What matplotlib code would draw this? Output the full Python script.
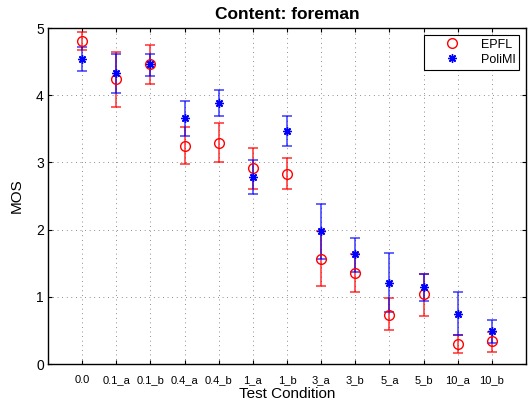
import matplotlib
matplotlib.use("Agg")
import matplotlib.pyplot as plt
import numpy as np

conditions = ["0.0", "0.1_a", "0.1_b", "0.4_a", "0.4_b", "1_a", "1_b",
              "3_a", "3_b", "5_a", "5_b", "10_a", "10_b"]
epfl_mos = [4.81, 4.24, 4.46, 3.24, 3.29, 2.92, 2.83, 1.56, 1.36, 0.73, 1.04, 0.30, 0.34]
epfl_lo = [4.67, 3.82, 4.17, 2.97, 3.00, 2.60, 2.60, 1.16, 1.07, 0.50, 0.72, 0.17, 0.18]
epfl_hi = [4.94, 4.65, 4.75, 3.53, 3.59, 3.22, 3.07, 1.98, 1.64, 0.98, 1.34, 0.43, 0.48]
polimi_mos = [4.54, 4.33, 4.46, 3.66, 3.89, 2.79, 3.47, 1.98, 1.64, 1.20, 1.15, 0.75, 0.49]
polimi_lo = [4.36, 4.03, 4.29, 3.39, 3.69, 2.53, 3.24, 1.56, 1.37, 0.77, 0.94, 0.43, 0.31]
polimi_hi = [4.72, 4.62, 4.62, 3.92, 4.08, 3.04, 3.69, 2.38, 1.88, 1.65, 1.34, 1.07, 0.65]

plt.rcParams['font.family'] = ['Liberation Sans', 'DejaVu Sans']

fig = plt.figure(figsize=(5.31, 4.05), dpi=100)
ax = fig.add_axes([48/531, 41/405, 478/531, 336/405])

x = np.arange(1, len(conditions) + 1)

def err(m, lo, hi):
    m = np.array(m); lo = np.array(lo); hi = np.array(hi)
    return np.vstack([m - lo, hi - m])

ax.errorbar(x, epfl_mos, yerr=err(epfl_mos, epfl_lo, epfl_hi), fmt='none',
            ecolor=(1, 0, 0, 0.75), elinewidth=1.2, capsize=3.3, capthick=1.2, zorder=3)
ax.errorbar(x, polimi_mos, yerr=err(polimi_mos, polimi_lo, polimi_hi), fmt='none',
            ecolor=(0, 0, 1, 0.7), elinewidth=1.2, capsize=3.3, capthick=1.2, zorder=3)
ax.plot(x, epfl_mos, linestyle='none', marker='o', markersize=7, markerfacecolor='none',
        markeredgecolor='red', markeredgewidth=1.0, label='EPFL', zorder=4)
ax.plot(x, polimi_mos, linestyle='none', marker=(8, 2, 0), markersize=6,
        markeredgecolor='blue', color='blue', markeredgewidth=1.0, label='PoliMI', zorder=4)

ax.set_xlim(0, 14)
ax.set_ylim(0, 5)
ax.set_xticks(x)
ax.set_xticklabels(conditions, fontsize=8)
ax.set_yticks(range(0, 6))
ax.tick_params(axis='y', labelsize=10)
ax.tick_params(direction='in', length=3, width=0.8, top=True, right=True)
ax.tick_params(axis='x', pad=8)
ax.tick_params(axis='y', pad=3)
ax.grid(True, linestyle=(0, (1, 5)), color='0.3', linewidth=0.55)
for s in ax.spines.values():
    s.set_linewidth(1.0)

ax.set_title('Content: foreman', fontsize=12.5, fontweight='bold', pad=6.5)
ax.set_xlabel('Test Condition', fontsize=11, labelpad=1.5)
ax.set_ylabel('MOS', fontsize=11, labelpad=9)

leg = ax.legend(loc='upper right', fontsize=9, frameon=True, fancybox=False,
                edgecolor='black', framealpha=1, borderpad=0.3, handletextpad=0.4,
                handlelength=3.8, labelspacing=0.25, borderaxespad=0.55)
leg.get_frame().set_linewidth(0.8)

fig.savefig('out.png', dpi=100)
